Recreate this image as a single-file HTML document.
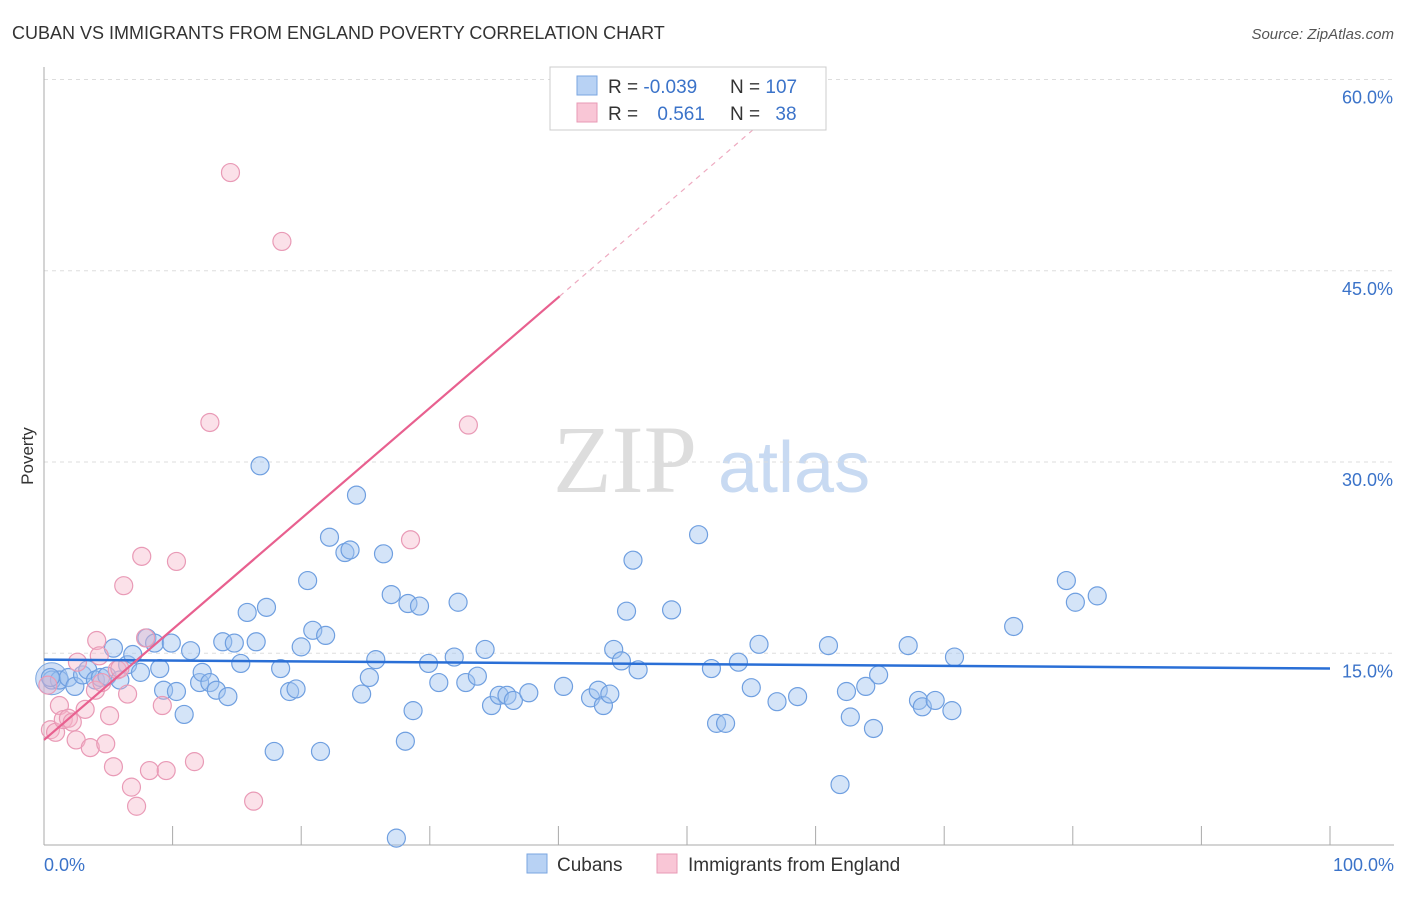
<!DOCTYPE html>
<html><head><meta charset="utf-8"><style>
body{margin:0;background:#fff;font-family:"Liberation Sans",sans-serif;}
svg text{font-family:"Liberation Sans",sans-serif;}
</style></head><body>
<svg id="chart" width="1406" height="892">
<text x="12" y="39" font-size="18" fill="#333">CUBAN VS IMMIGRANTS FROM ENGLAND POVERTY CORRELATION CHART</text>
<text x="1394" y="39" font-size="15" fill="#555" font-style="italic" text-anchor="end">Source: ZipAtlas.com</text>
<text x="33" y="456" font-size="17" fill="#333" text-anchor="middle" transform="rotate(-90 33 456)">Poverty</text>
<g>
<text x="553" y="492" font-size="96" fill="#ddd" style="font-family:'Liberation Serif',serif">ZIP</text>
<text x="718" y="492" font-size="72" fill="#c8daf2">atlas</text>
</g>
<g id="grid"></g><g id="axes"></g><g id="pts"></g><g id="trend"></g>
<g>
<rect x="550" y="67" width="276" height="63" fill="#fff" stroke="#ccc"/>
<rect x="577" y="76" width="20" height="19" fill="#b8d2f4" stroke="#7aa6e0"/>
<rect x="577" y="103" width="20" height="19" fill="#f9c6d6" stroke="#e89ab5"/>
<text x="608" y="93" font-size="19" fill="#333">R = <tspan fill="#3b73c9">-0.039</tspan></text>
<text x="730" y="93" font-size="19" fill="#333">N = <tspan fill="#3b73c9">107</tspan></text>
<text x="608" y="120" font-size="19" fill="#333">R = <tspan fill="#3b73c9" dx="14">0.561</tspan></text>
<text x="730" y="120" font-size="19" fill="#333">N = <tspan fill="#3b73c9" dx="10">38</tspan></text>
</g>
<g>
<rect x="527" y="854" width="20" height="19" fill="#b8d2f4" stroke="#7aa6e0"/>
<text x="557" y="871" font-size="19" fill="#333">Cubans</text>
<rect x="657" y="854" width="20" height="19" fill="#f9c6d6" stroke="#e89ab5"/>
<text x="688" y="871" font-size="19" fill="#333">Immigrants from England</text>
</g>
<text x="44" y="871" font-size="18" fill="#3b73c9">0.0%</text>
<text x="1394" y="871" font-size="18" fill="#3b73c9" text-anchor="end">100.0%</text>
</svg>
<script>
const yTicks=[15,30,45,60];
const yTickLabels=["15.0%","30.0%","45.0%","60.0%"];
const blueX=[0.6,1.2,1.9,2.4,3.0,3.4,4.0,4.4,4.9,5.4,5.9,6.5,6.9,7.5,8.0,8.6,9.0,9.3,9.9,10.3,10.9,11.4,12.1,12.3,12.9,13.4,13.9,14.3,14.8,15.3,15.8,16.5,16.8,17.3,17.9,18.4,19.1,19.6,20.0,20.5,20.9,21.5,21.9,22.2,23.4,23.8,24.3,24.7,25.3,25.8,26.4,27.0,28.1,28.3,28.7,29.2,29.9,30.7,31.9,32.2,32.8,33.7,34.3,34.8,35.4,36.0,36.5,37.7,40.4,42.5,43.1,43.5,44.0,44.3,44.9,45.3,45.8,46.2,48.8,50.9,51.9,52.3,53.0,54.0,55.0,55.6,57.0,58.6,61.0,61.9,62.4,62.7,63.9,64.5,64.9,67.2,68.0,68.3,69.3,70.6,70.8,75.4,79.5,80.2,81.9,27.4,0.5];
const blueY=[12.9,12.9,13.1,12.4,13.3,13.7,12.9,13.1,13.2,15.4,12.9,14.1,14.9,13.5,16.2,15.8,13.8,12.1,15.8,12.0,10.2,15.2,12.7,13.5,12.7,12.1,15.9,11.6,15.8,14.2,18.2,15.9,29.7,18.6,7.3,13.8,12.0,12.2,15.5,20.7,16.8,7.3,16.4,24.1,22.9,23.1,27.4,11.8,13.1,14.5,22.8,19.6,8.1,18.9,10.5,18.7,14.2,12.7,14.7,19.0,12.7,13.2,15.3,10.9,11.7,11.7,11.3,11.9,12.4,11.5,12.1,10.9,11.8,15.3,14.4,18.3,22.3,13.7,18.4,24.3,13.8,9.5,9.5,14.3,12.3,15.7,11.2,11.6,15.6,4.7,12.0,10.0,12.4,9.1,13.3,15.6,11.3,10.8,11.3,10.5,14.7,17.1,20.7,19.0,19.5,0.5,13.1];
const pinkX=[0.5,0.9,1.2,1.5,1.9,2.2,2.5,2.6,3.2,3.6,4.0,4.1,4.3,4.5,4.8,5.1,5.4,5.7,5.9,6.2,6.5,6.8,7.2,7.6,7.9,8.2,9.2,9.5,10.3,11.7,12.9,14.5,16.3,18.5,28.5,33.0,0.3];
const pinkY=[9.0,8.8,10.9,9.8,9.9,9.6,8.2,14.3,10.6,7.6,12.1,16.0,14.8,12.7,7.9,10.1,6.1,13.7,13.8,20.3,11.8,4.5,3.0,22.6,16.2,5.8,10.9,5.8,22.2,6.5,33.1,52.7,3.4,47.3,23.9,32.9,12.5];
const blueTrend=[14.5,13.8];
const pinkTrend=[8.2,0.868];
const NS="http://www.w3.org/2000/svg";
const X=v=>44+v*12.86, Y=v=>844.5-v*12.75;
function mk(t,a,p){const e=document.createElementNS(NS,t);for(const k in a)e.setAttribute(k,a[k]);p.appendChild(e);return e;}
const grid=document.getElementById('grid'),axes=document.getElementById('axes'),pts=document.getElementById('pts'),tr=document.getElementById('trend');
yTicks.forEach((v,i)=>{
 const l=mk('line',{x1:44,x2:1394,y1:Y(v),y2:Y(v),stroke:'#ddd','stroke-dasharray':'4,4'},grid);
 
 
 const t=mk('text',{x:1393,y:Y(v)+24,'font-size':18,fill:'#3b73c9','text-anchor':'end'},grid);
 t.textContent=yTickLabels[i];
 
 
});
const ax=mk('line',{x1:44,x2:44,y1:67,y2:845,stroke:'#aaa'},axes);


const bx=mk('line',{x1:44,x2:1394,y1:845,y2:845,stroke:'#aaa'},axes);


for(let i=0;i<=10;i++){const t=mk('line',{x1:X(i*10),x2:X(i*10),y1:826,y2:845,stroke:'#aaa'},axes);
 
 }
const big=mk('circle',{cx:X(0.6),cy:Y(13),r:16,fill:'rgba(150,185,235,0.45)',stroke:'#7aa6e0'},pts);


blueX.forEach((x,i)=>{const c=mk('circle',{cx:X(x),cy:Y(blueY[i]),r:9,fill:'rgba(160,196,240,0.45)',stroke:'#6f9fe0','stroke-width':1.2},pts);
 
 });
pinkX.forEach((x,i)=>{const c=mk('circle',{cx:X(x),cy:Y(pinkY[i]),r:9,fill:'rgba(245,180,200,0.4)',stroke:'#e99ab6','stroke-width':1.2},pts);
 
 });
const bl=mk('line',{x1:X(0),y1:Y(blueTrend[0]),x2:X(100),y2:Y(blueTrend[1]),stroke:'#2a6fd6','stroke-width':2.5},tr);


const pl=mk('line',{x1:X(0),y1:Y(pinkTrend[0]),x2:X(40.1),y2:Y(pinkTrend[0]+pinkTrend[1]*40.1),stroke:'#e8608f','stroke-width':2.2},tr);


const pd=mk('line',{x1:X(40.1),y1:Y(pinkTrend[0]+pinkTrend[1]*40.1),x2:X(56.7),y2:Y(pinkTrend[0]+pinkTrend[1]*56.7),stroke:'#eeaac0','stroke-width':1.2,'stroke-dasharray':'5,5'},tr);


</script>
</body></html>
